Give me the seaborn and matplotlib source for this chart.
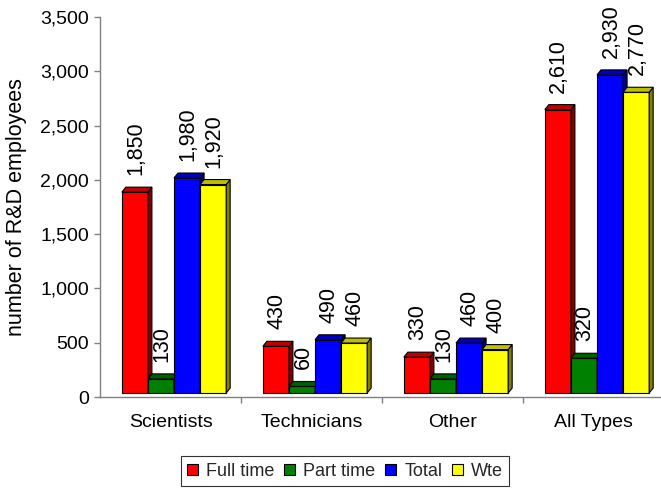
import numpy as np
import pandas as pd
import matplotlib
matplotlib.use("Agg")
import matplotlib.pyplot as plt
import seaborn as sns
from matplotlib.patches import Polygon, Patch
from matplotlib import transforms as mtransforms
from matplotlib.ticker import FuncFormatter, MultipleLocator, FixedLocator
from matplotlib.colors import to_rgb

categories = ["Scientists", "Technicians", "Other", "All Types"]
series = ["Full time", "Part time", "Total", "Wte"]
full_time = [1850, 430, 330, 2610]
part_time = [130, 60, 130, 320]
total = [1980, 490, 460, 2930]
wte = [1920, 460, 400, 2770]
colors = ["#FF0000", "#008000", "#0000FF", "#FFFF00"]

df = pd.DataFrame({
    "category": categories * 4,
    "series": np.repeat(series, len(categories)),
    "value": full_time + part_time + total + wte,
})

sns.set_theme(style="white")
plt.rcParams["font.family"] = ["Liberation Sans", "DejaVu Sans"]

DPI = 100
fig = plt.figure(figsize=(6.61, 4.97), dpi=DPI)
ax = fig.add_axes([100 / 661, 1 - 397 / 497, 564 / 661, 380 / 497])

sns.barplot(data=df, x="category", y="value", hue="series",
            order=categories, hue_order=series, palette=colors,
            saturation=1, width=0.74, gap=0, edgecolor="black",
            linewidth=0.8, legend=False, ax=ax)

ax.set_xlim(-0.5, len(categories) - 0.5)
ax.set_ylim(0, 3500)

# front faces sit slightly forward of the value wall
FRONT_DX, FRONT_DY = 3.5, 4.0
DEPTH_DX, DEPTH_DY = 4.0, 5.0
front_tr = mtransforms.offset_copy(ax.transData, fig=fig, x=FRONT_DX, y=FRONT_DY, units="dots")


def shade(c, f):
    r, g, b = to_rgb(c)
    return (r * f, g * f, b * f)


bars = sorted(ax.patches, key=lambda p: p.get_x())
inv = ax.transData.inverted()
n_series = len(series)
for i, p in enumerate(bars):
    k = i % n_series
    p.set_transform(front_tr)
    p.set_zorder(2 + 0.2 * k)
    x0, w, h = p.get_x(), p.get_width(), p.get_height()
    fc = p.get_facecolor()
    pts = front_tr.transform([(x0, 0), (x0 + w, 0), (x0 + w, h), (x0, h)])
    bl, br, tr_, tl = pts
    d = np.array([DEPTH_DX, DEPTH_DY])
    top = inv.transform([tl, tr_, tr_ + d, tl + d])
    side = inv.transform([br, br + d, tr_ + d, tr_])
    for verts, f in ((side, 0.5), (top, 0.75)):
        ax.add_patch(Polygon(verts, closed=True, facecolor=shade(fc, f),
                             edgecolor="black", linewidth=0.8,
                             zorder=2.1 + 0.2 * k))
    ax.annotate(f"{int(round(h)):,}", xy=(x0 + w / 2, h),
                xytext=(FRONT_DX + 1, FRONT_DY + 17), textcoords="offset pixels",
                rotation=90, ha="center", va="bottom", fontsize=15.5,
                color="black", zorder=5)

# axes styling
for s in ("top", "right"):
    ax.spines[s].set_visible(False)
for s in ("left", "bottom"):
    ax.spines[s].set_color("#808080")
    ax.spines[s].set_linewidth(1.0)

ax.yaxis.set_major_locator(MultipleLocator(500))
ax.yaxis.set_major_formatter(FuncFormatter(lambda v, _: f"{v:,.0f}"))
ax.tick_params(axis="y", which="major", direction="out", length=4, width=1,
               color="#808080", labelsize=14, labelcolor="black", pad=4, left=True)
ax.set_xticks(range(len(categories)))
ax.set_xticklabels(categories)
ax.xaxis.set_minor_locator(FixedLocator([0.5, 1.5, 2.5]))
ax.tick_params(axis="x", which="major", length=0, labelsize=14, labelcolor="black", pad=12)
ax.tick_params(axis="x", which="minor", direction="out", length=4, width=1,
               color="#808080", bottom=True)
ax.set_xlabel("")
ax.set_ylabel("number of R&D employees", fontsize=15.5, color="black",
              va="center", rotation_mode="anchor")
ax.yaxis.set_label_coords(-(100 - 17) / 564, 0.5)

handles = [Patch(facecolor=c, edgecolor="black", linewidth=0.8) for c in colors]
leg = fig.legend(handles, series, loc="center", bbox_to_anchor=(0.522, 0.052),
                 ncol=4, frameon=True, fancybox=False, fontsize=13,
                 handlelength=0.6, handleheight=0.6, handletextpad=0.45,
                 columnspacing=0.55, borderpad=0.35, borderaxespad=0)
leg.get_frame().set_edgecolor("black")
leg.get_frame().set_linewidth(0.8)

fig.savefig("out.png", dpi=DPI, facecolor="white")
